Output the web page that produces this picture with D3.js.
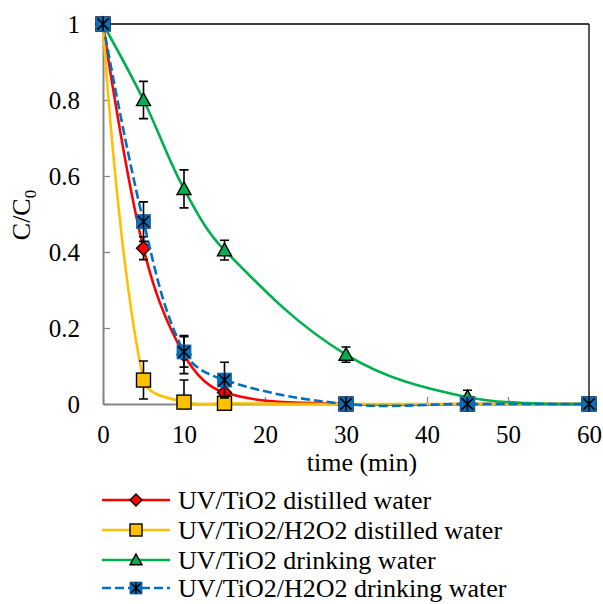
<!DOCTYPE html>
<html>
<head>
<meta charset="utf-8">
<script src="https://cdn.jsdelivr.net/npm/d3@7"></script>
<style>
  html, body { margin: 0; padding: 0; background: #fff; }
  svg text { font-family: "Liberation Serif", serif; }
</style>
</head>
<body>
<svg id="chart" width="603" height="604"></svg>
<script>
// Sampling times (min)
const times = [0, 5, 10, 15, 30, 45, 60];

// C/C0 for each treatment, with standard deviations
const uvTiO2Distilled      = [1, 0.41, 0.13, 0.03, 0, 0, 0];
const uvTiO2DistilledErr   = [0, 0.03, 0.05, 0, 0, 0, 0];
const uvH2O2Distilled      = [1, 0.063, 0.005, 0.002, 0, 0, 0];
const uvH2O2DistilledErr   = [0, 0.05, 0.058, 0, 0, 0, 0];
const uvTiO2Drinking       = [1, 0.80, 0.566, 0.405, 0.13, 0.018, 0];
const uvTiO2DrinkingErr    = [0, 0.049, 0.05, 0.026, 0.02, 0.018, 0];
const uvH2O2Drinking       = [1, 0.48, 0.137, 0.063, 0, 0, 0];
const uvH2O2DrinkingErr    = [0, 0.052, 0.04, 0.047, 0, 0, 0];

const seriesNames = [
  "UV/TiO2 distilled water",
  "UV/TiO2/H2O2 distilled water",
  "UV/TiO2 drinking water",
  "UV/TiO2/H2O2 drinking water"
];

const xTicks = [0, 10, 20, 30, 40, 50, 60];
const yTicks = [0, 0.2, 0.4, 0.6, 0.8, 1];

const FONT = "Liberation Serif, serif";

const series = [
  { name: seriesNames[0], values: uvTiO2Distilled, err: uvTiO2DistilledErr, color: "#FF0000", marker: "diamond", dash: null },
  { name: seriesNames[1], values: uvH2O2Distilled, err: uvH2O2DistilledErr, color: "#FFC000", marker: "square", dash: null },
  { name: seriesNames[2], values: uvTiO2Drinking, err: uvTiO2DrinkingErr, color: "#00B050", marker: "triangle", dash: null },
  { name: seriesNames[3], values: uvH2O2Drinking, err: uvH2O2DrinkingErr, color: "#0070C0", marker: "star", dash: "9,4" }
];

const svg = d3.select("#chart").attr("font-family", FONT);
const plot = { left: 103, right: 589, top: 24, bottom: 404 };

const x = d3.scaleLinear().domain([0, 60]).range([plot.left, plot.right]);
const y = d3.scaleLinear().domain([0, 1]).range([plot.bottom, plot.top]);

// Smoothed Bezier curve: tangent control points scaled by neighbouring segment lengths
function smoothCurve(context) {
  let pts;
  const t = 0.36;
  return {
    areaStart() {}, areaEnd() {},
    lineStart() { pts = []; },
    point(px, py) { pts.push([+px, +py]); },
    lineEnd() {
      const n = pts.length;
      if (!n) return;
      const ctrl = pts.map((p, i) => {
        const prev = pts[i - 1], next = pts[i + 1];
        if (!prev || !next) return { before: p, after: p };
        const d01 = Math.hypot(p[0] - prev[0], p[1] - prev[1]);
        const d12 = Math.hypot(next[0] - p[0], next[1] - p[1]);
        const s = d01 + d12 || 1;
        const fa = t * d01 / s, fb = t * d12 / s;
        const dx = next[0] - prev[0], dy = next[1] - prev[1];
        return {
          before: [p[0] - fa * dx, p[1] - fa * dy],
          after: [p[0] + fb * dx, p[1] + fb * dy]
        };
      });
      context.moveTo(pts[0][0], pts[0][1]);
      for (let i = 0; i < n - 1; i++) {
        const c1 = ctrl[i].after, c2 = ctrl[i + 1].before, p = pts[i + 1];
        context.bezierCurveTo(c1[0], c1[1], c2[0], c2[1], p[0], p[1]);
      }
    }
  };
}

// Clip for error bars
svg.append("defs").append("clipPath").attr("id", "plotClip")
  .append("rect")
  .attr("x", plot.left).attr("y", plot.top - 10)
  .attr("width", plot.right - plot.left + 10)
  .attr("height", plot.bottom - plot.top + 10);

// Frame: black top and right edges
svg.append("line").attr("x1", plot.left).attr("x2", plot.right)
  .attr("y1", plot.top).attr("y2", plot.top)
  .attr("stroke", "#000").attr("stroke-width", 1.3);
svg.append("line").attr("x1", plot.right).attr("x2", plot.right)
  .attr("y1", plot.top).attr("y2", plot.bottom)
  .attr("stroke", "#000").attr("stroke-width", 1.3);

// Axes
const xAxis = d3.axisBottom(x).tickValues(xTicks).tickFormat(d3.format("d"))
  .tickSizeInner(-7).tickSizeOuter(0).tickPadding(21);
const yAxis = d3.axisLeft(y).tickValues(yTicks).tickFormat(d => d === 0 || d === 1 ? d3.format("d")(d) : d3.format(".1f")(d))
  .tickSizeInner(-7).tickSizeOuter(0).tickPadding(23);

const gx = svg.append("g").attr("transform", `translate(0,${plot.bottom})`).call(xAxis);
const gy = svg.append("g").attr("transform", `translate(${plot.left},0)`).call(yAxis);
[gx, gy].forEach(g => {
  g.attr("font-family", FONT).attr("font-size", 25);
  g.select(".domain").attr("stroke", "#868686").attr("stroke-width", 2);
  g.selectAll(".tick line").attr("stroke", "#868686").attr("stroke-width", 1.3);
  g.selectAll(".tick text").attr("fill", "#000").attr("font-family", FONT).attr("font-size", 25);
});
gy.selectAll(".tick text").attr("dy", "0.34em");

// Axis titles
svg.append("text").attr("x", 362).attr("y", 471).attr("text-anchor", "middle")
  .attr("font-family", FONT).attr("font-size", 26).text("time (min)");
const yt = svg.append("text").attr("transform", "translate(30,215) rotate(-90)")
  .attr("text-anchor", "middle").attr("font-family", FONT).attr("font-size", 26);
yt.append("tspan").text("C/C");
yt.append("tspan").attr("dy", 6).attr("font-size", 17).text("0");

// Marker drawing
function drawMarker(g, type, color, size) {
  const h = size / 2;
  if (type === "diamond") {
    g.append("path").attr("d", `M0,${-h}L${h},0L0,${h}L${-h},0Z`)
      .attr("fill", color).attr("stroke", "#000").attr("stroke-width", 1.4);
  } else if (type === "square") {
    g.append("rect").attr("x", -h).attr("y", -h).attr("width", size).attr("height", size)
      .attr("fill", color).attr("stroke", "#000").attr("stroke-width", 1.4);
  } else if (type === "triangle") {
    g.append("path").attr("d", `M0,${-h}L${h},${h * 0.8}L${-h},${h * 0.8}Z`)
      .attr("fill", color).attr("stroke", "#000").attr("stroke-width", 1.4);
  } else if (type === "star") {
    g.append("rect").attr("x", -h).attr("y", -h).attr("width", size).attr("height", size)
      .attr("fill", color).attr("stroke", "#1F5F9F").attr("stroke-width", 0.8);
    const k = h * 0.8;
    g.append("path").attr("d", `M${-k},${-k}L${k},${k}M${k},${-k}L${-k},${k}M0,${-h}L0,${h}`)
      .attr("stroke", "#000").attr("stroke-width", 1.6).attr("fill", "none");
  }
}

const line = d3.line().x(d => x(d.t)).y(d => y(d.v)).curve(smoothCurve);

// Lines, error bars and markers for each series
series.forEach(s => {
  const pts = times.map((t, i) => ({ t, v: s.values[i], e: s.err[i] }));
  const g = svg.append("g");
  g.append("path").datum(pts).attr("d", line)
    .attr("fill", "none").attr("stroke", s.color).attr("stroke-width", 2.6)
    .attr("stroke-dasharray", s.dash);

  const eb = g.append("g").attr("clip-path", "url(#plotClip)");
  pts.filter(d => d.e > 0).forEach(d => {
    const cx = x(d.t), y1 = y(d.v + d.e), y2 = y(d.v - d.e);
    eb.append("path")
      .attr("d", `M${cx},${y1}L${cx},${y2}M${cx - 4.5},${y1}L${cx + 4.5},${y1}M${cx - 4.5},${y2}L${cx + 4.5},${y2}`)
      .attr("stroke", "#000").attr("stroke-width", 1.6).attr("fill", "none");
  });

  pts.forEach(d => {
    const m = g.append("g").attr("transform", `translate(${x(d.t)},${y(d.v)})`);
    drawMarker(m, s.marker, s.color, 14);
  });
});

// Legend
const legendRows = [500, 530, 560, 588];
series.forEach((s, i) => {
  const ly = legendRows[i];
  const lg = svg.append("g");
  lg.append("line").attr("x1", 102).attr("x2", 170).attr("y1", ly).attr("y2", ly)
    .attr("stroke", s.color).attr("stroke-width", 2.6).attr("stroke-dasharray", s.dash);
  drawMarker(lg.append("g").attr("transform", `translate(136,${ly})`), s.marker, s.color, 12);
  lg.append("text").attr("x", 178).attr("y", ly + 9)
    .attr("font-family", FONT).attr("font-size", 26).text(s.name);
});
</script>
</body>
</html>
